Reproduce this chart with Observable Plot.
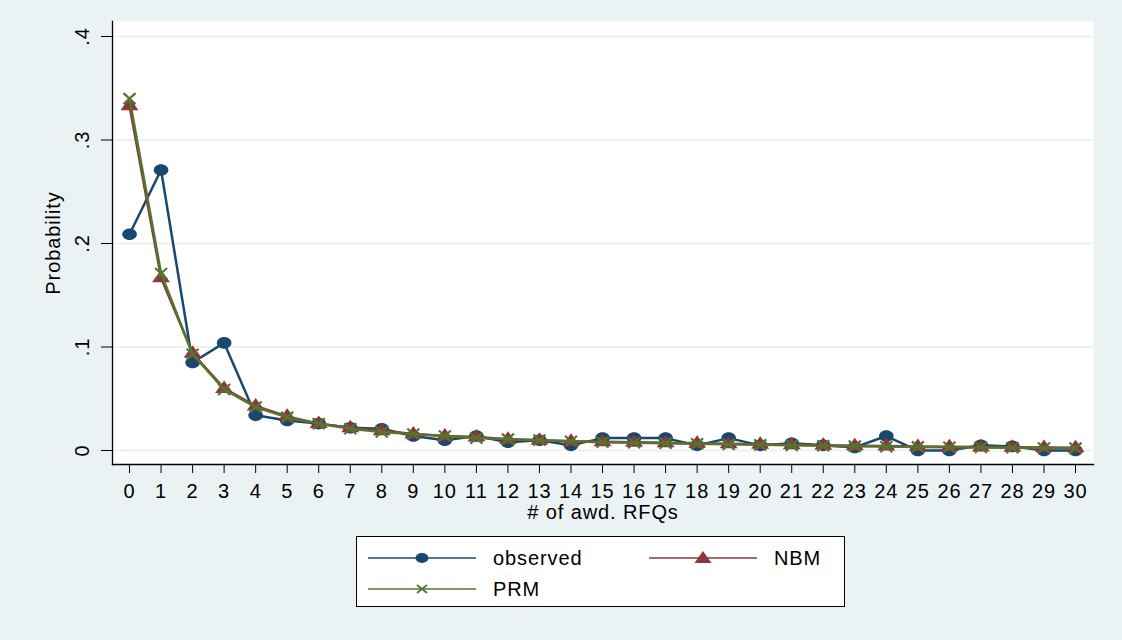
<!DOCTYPE html>
<html><head><meta charset="utf-8">
<script src="https://cdn.jsdelivr.net/npm/d3@7"></script>
<script src="https://cdn.jsdelivr.net/npm/@observablehq/plot@0.6"></script>
<style>
body{margin:0;background:#eaf2f3;font-family:"Liberation Sans",Arial,sans-serif;}
#wrap{position:relative;width:1122px;height:640px;background:#eaf2f3;overflow:hidden}
#chart{position:absolute;left:0;top:0}
#chart svg text{letter-spacing:0.9px}
#legend{position:absolute;left:356px;top:536px;width:489px;height:71px;background:#fff;box-sizing:border-box;border:1px solid #000;}
#legend text{letter-spacing:0.9px}
</style></head><body><div id="wrap"><div id="chart"></div><div id="legend"></div></div>
<script>
const counts = [0,1,2,3,4,5,6,7,8,9,10,11,12,13,14,15,16,17,18,19,20,21,22,23,24,25,26,27,28,29,30];
const observed = [0.209,0.271,0.085,0.104,0.034,0.029,0.026,0.022,0.021,0.014,0.010,0.014,0.008,0.010,0.005,0.012,0.012,0.012,0.005,0.012,0.005,0.007,0.005,0.003,0.014,0.000,0.000,0.005,0.004,0.000,0.000];
const nbm = [0.333,0.167,0.094,0.060,0.043,0.033,0.026,0.022,0.019,0.016,0.014,0.013,0.011,0.010,0.009,0.0085,0.008,0.0075,0.007,0.0065,0.006,0.0055,0.005,0.0047,0.0043,0.004,0.0037,0.0034,0.0032,0.003,0.0028];
const prm = [0.340,0.171,0.093,0.059,0.042,0.032,0.026,0.021,0.018,0.016,0.014,0.012,0.011,0.010,0.009,0.008,0.0075,0.007,0.0065,0.006,0.0055,0.005,0.0046,0.0042,0.0038,0.0035,0.0032,0.003,0.0027,0.0025,0.0023];
const yTicks = [0,0.1,0.2,0.3,0.4];
const seriesNames = ["observed","NBM","PRM"];
const colors = {observed:"#1a476f", NBM:"#90353b", PRM:"#55752f"};

const rows = counts.map((c,i)=>({count:c, observed:observed[i], NBM:nbm[i], PRM:prm[i]}));

// Stata markers (rendered slightly wider than tall in the reference)
const ellipse = {draw(ctx){ const rx=7.3, ry=5.8, k=0.5523;
  ctx.moveTo(rx,0);
  ctx.bezierCurveTo(rx,ry*k,rx*k,ry,0,ry);
  ctx.bezierCurveTo(-rx*k,ry,-rx,ry*k,-rx,0);
  ctx.bezierCurveTo(-rx,-ry*k,-rx*k,-ry,0,-ry);
  ctx.bezierCurveTo(rx*k,-ry,rx,-ry*k,rx,0);
  ctx.closePath(); }};
const tri = {draw(ctx){ ctx.moveTo(0,-8); ctx.lineTo(9,4.5); ctx.lineTo(-9,4.5); ctx.closePath(); }};
const cross = {draw(ctx){ ctx.moveTo(-6,-5.5); ctx.lineTo(6,5.5); ctx.moveTo(-6,5.5); ctx.lineTo(6,-5.5); }};

const fmt = d => d===0 ? "0" : String(d).replace(/^0\./,".");
const FS = 20;

const chart = Plot.plot({
  width:1122, height:640,
  marginLeft:112, marginRight:29, marginTop:21, marginBottom:176,
  style:{background:"transparent", fontFamily:"Liberation Sans, Arial, sans-serif", fontSize:FS+"px", color:"#000"},
  x:{domain:[-0.54,30.57]},
  y:{domain:[-0.0135,0.4145]},
  marks:[
    Plot.frame({fill:"white", stroke:null}),
    Plot.gridY(yTicks,{stroke:"#eaf2f3", strokeOpacity:1, strokeWidth:2}),
    Plot.axisX(counts,{tickSize:9, tickPadding:10, fontSize:FS, tickFormat:d=>String(d), label:"# of awd. RFQs", labelAnchor:"center", labelArrow:"none", labelOffset:54}),
    Plot.axisY(yTicks,{tickSize:11, tickPadding:13, fontSize:FS, tickRotate:-90, tickFormat:fmt, label:"Probability", labelAnchor:"center", labelArrow:"none", labelOffset:67}),
    Plot.frame({anchor:"left", stroke:"#000", strokeWidth:1.3}),
    Plot.frame({anchor:"bottom", stroke:"#000", strokeWidth:1.3}),
    Plot.line(rows,{x:"count", y:"observed", stroke:colors.observed, strokeWidth:2.5}),
    Plot.dot(rows,{x:"count", y:"observed", symbol:ellipse, fill:colors.observed, stroke:null}),
    Plot.line(rows,{x:"count", y:"NBM", stroke:colors.NBM, strokeWidth:2.5}),
    Plot.dot(rows,{x:"count", y:"NBM", symbol:tri, fill:colors.NBM, stroke:null}),
    Plot.line(rows,{x:"count", y:"PRM", stroke:colors.PRM, strokeWidth:2.5}),
    Plot.dot(rows,{x:"count", y:"PRM", symbol:cross, fill:"none", stroke:colors.PRM, strokeWidth:2.2})
  ]
});
document.getElementById("chart").appendChild(chart);

// legend
const keys = [
  {name:seriesNames[0], x0:11, y:21, sym:"ellipse"},
  {name:seriesNames[1], x0:292, y:21, sym:"tri"},
  {name:seriesNames[2], x0:11, y:52, sym:"cross"}
];
const lsvg = d3.select("#legend").append("svg").attr("width",487).attr("height",69)
  .style("position","absolute").style("left","0").style("top","0");
for (const k of keys) {
  const c = colors[k.name];
  const g = lsvg.append("g");
  g.append("line").attr("x1",k.x0).attr("x2",k.x0+108).attr("y1",k.y).attr("y2",k.y).attr("stroke",c).attr("stroke-width",1.6);
  const mx = k.x0+54;
  if (k.sym==="ellipse") g.append("ellipse").attr("cx",mx).attr("cy",k.y).attr("rx",6.5).attr("ry",5).attr("fill",c);
  else if (k.sym==="tri") g.append("path").attr("d",`M${mx},${k.y-7}L${mx+8.5},${k.y+5}L${mx-8.5},${k.y+5}Z`).attr("fill",c);
  else g.append("path").attr("d",`M${mx-5},${k.y-4}L${mx+5},${k.y+4}M${mx-5},${k.y+4}L${mx+5},${k.y-4}`).attr("stroke",c).attr("stroke-width",1.8);
  g.append("text").attr("x",k.x0+125).attr("y",k.y).attr("dy","0.35em").attr("font-size",FS)
    .attr("font-family","Liberation Sans, Arial, sans-serif").text(k.name);
}
</script></body></html>
